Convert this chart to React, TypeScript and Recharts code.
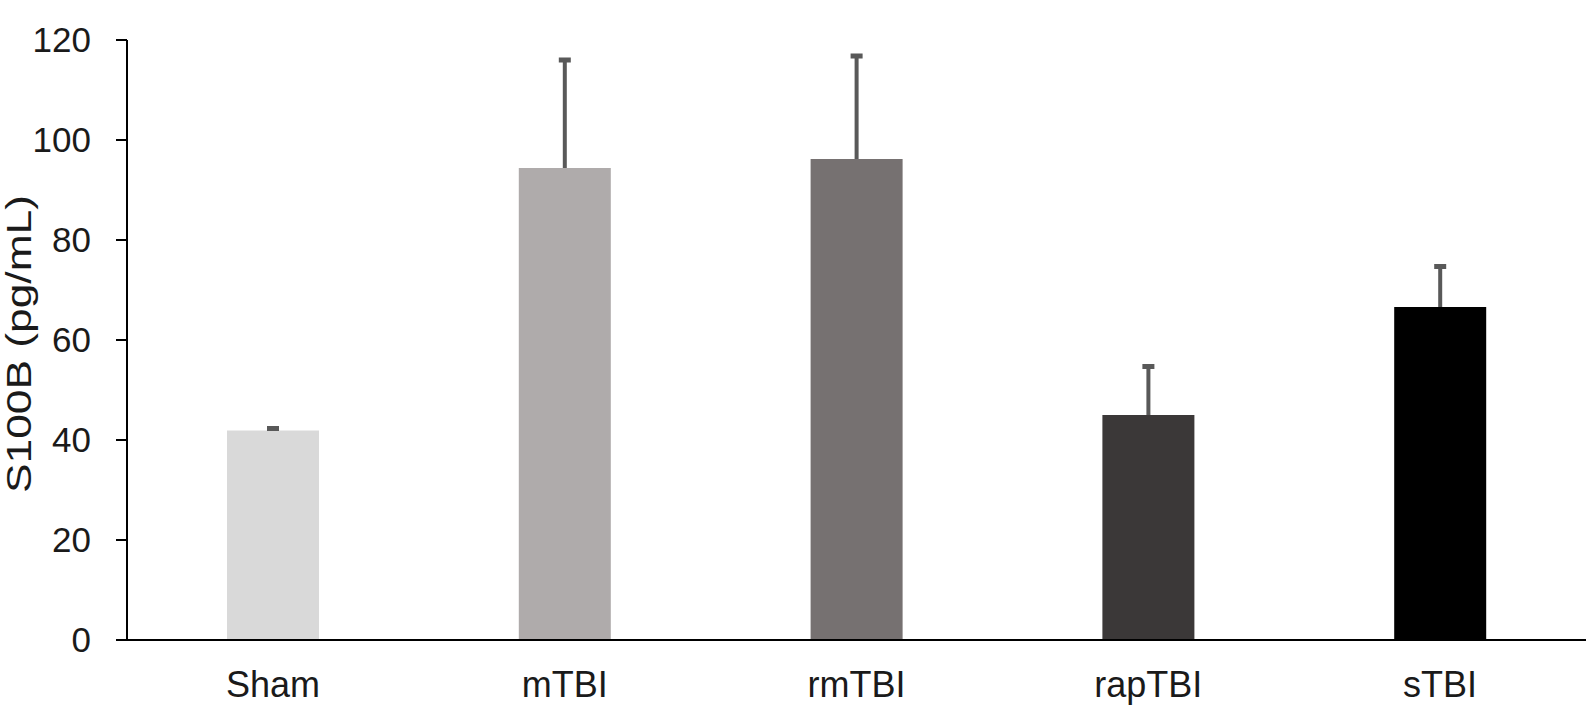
import React from 'react';
import { BarChart, Bar, XAxis, YAxis, Cell } from 'recharts';

const categories = ['Sham', 'mTBI', 'rmTBI', 'rapTBI', 'sTBI'];
const means = [41.9, 94.4, 96.2, 45.0, 66.6];
const errors = [0.4, 21.6, 20.6, 9.7, 8.1];
const colors = ['#d9d9d9', '#afabab', '#767171', '#3b3838', '#000000'];
const yTicks = [0, 20, 40, 60, 80, 100, 120];

const data = categories.map((name, i) => ({ name, value: means[i], error: errors[i] }));

const FONT = '"Liberation Sans", Arial, sans-serif';

const BarWithError = (props: any) => {
  const { x, y, width, height, fill, payload } = props;
  const pxPerUnit = height / payload.value;
  const top = y - payload.error * pxPerUnit;
  const cx = x + width / 2;
  return (
    <g>
      <rect x={x} y={y} width={width} height={height} fill={fill} />
      <line x1={cx} x2={cx} y1={y} y2={top} stroke="#595959" strokeWidth={4} />
      <rect x={cx - 6} y={top - 2.5} width={12} height={5} fill="#595959" />
    </g>
  );
};

const YLabel = () => (
  <text
    x={31}
    y={344}
    transform="rotate(-90 31 344)"
    textAnchor="middle"
    fontFamily={FONT}
    fontSize={35}
    fill="#1a1a1a"
    textLength={298}
    lengthAdjust="spacingAndGlyphs"
  >
    S100B (pg/mL)
  </text>
);

export default function App() {
  return (
    <div style={{ position: 'absolute', left: 0, top: 0, width: 1589, height: 722, background: '#fff' }}>
      <BarChart
        width={1589}
        height={722}
        data={data}
        margin={{ top: 40, right: 3, bottom: 22, left: 0 }}
        barSize={92}
      >
        <XAxis
          dataKey="name"
          height={60}
          tickLine={false}
          tickSize={0}
          tickMargin={31}
          axisLine={{ stroke: '#000', strokeWidth: 2 }}
          tick={{ fontFamily: FONT, fontSize: 36, fill: '#1a1a1a' }}
        />
        <YAxis
          width={127}
          domain={[0, 120]}
          ticks={yTicks}
          interval={0}
          tickSize={11}
          tickMargin={25}
          axisLine={{ stroke: '#000', strokeWidth: 2 }}
          tickLine={{ stroke: '#000', strokeWidth: 2 }}
          tick={{ fontFamily: FONT, fontSize: 35, fill: '#1a1a1a' }}
          label={<YLabel />}
        />
        <Bar dataKey="value" isAnimationActive={false} shape={<BarWithError />}>
          {data.map((d, i) => (
            <Cell key={d.name} fill={colors[i]} />
          ))}
        </Bar>
      </BarChart>
    </div>
  );
}
